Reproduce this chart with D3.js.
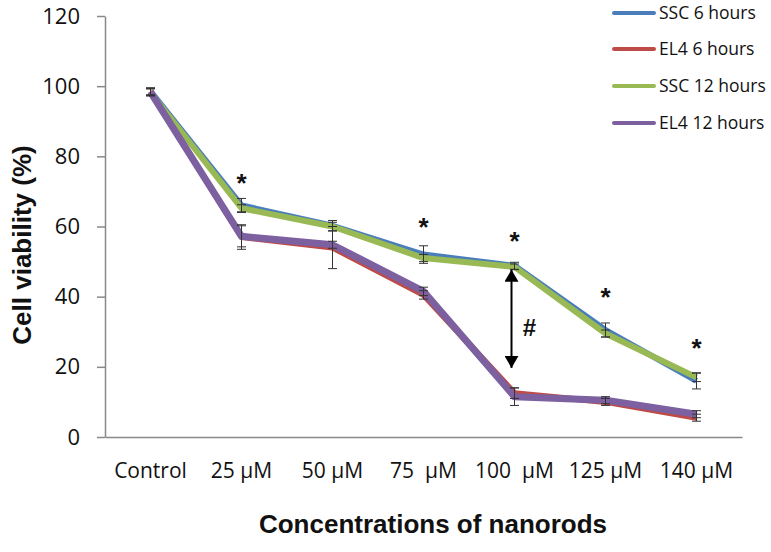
<!DOCTYPE html>
<html><head><meta charset="utf-8">
<script src="https://cdn.jsdelivr.net/npm/d3@7"></script>
<style>
html,body{margin:0;padding:0;background:#fff;}
svg{display:block;}
text{font-family:"Open Sans","Liberation Sans",sans-serif;}
</style></head>
<body>
<svg id="chart" width="771" height="552"></svg>
<script>
const categories = ["Control","25 µM","50 µM","75  µM","100  µM","125 µM","140 µM"];
const seriesNames = ["SSC 6 hours","EL4 6 hours","SSC 12 hours","EL4 12 hours"];
const sscSix     = [98.5, 66.0, 60.2, 52.0, 48.8, 30.5, 16.0];
const el4Six     = [98.5, 57.0, 54.0, 40.5, 12.5, 10.0, 5.5];
const sscTwelve  = [98.2, 65.2, 60.0, 51.0, 48.5, 29.5, 17.0];
const el4Twelve  = [98.3, 57.2, 54.8, 41.5, 11.5, 10.5, 6.5];
const sscSixErr     = [1.0, 2.0, 1.5, 2.5, 1.0, 2.0, 2.3];
const el4SixErr     = [1.0, 3.5, 6.0, 1.2, 1.5, 1.0, 1.0];
const sscTwelveErr  = [1.0, 1.0, 1.2, 1.0, 0.8, 1.0, 1.2];
const el4TwelveErr  = [1.0, 3.0, 1.0, 1.2, 2.5, 1.0, 1.0];
const yTicks = [0,20,40,60,80,100,120];
const starCats = ["25 µM","75  µM","100  µM","125 µM","140 µM"];
const starValues = [74, 61.5, 57.7, 41.5, 27];
const arrowCat = "100  µM";
const arrowRange = [47.7, 19.7];
const hashValue = 31.4;

const seriesValues = [sscSix, el4Six, sscTwelve, el4Twelve];
const seriesErrs = [sscSixErr, el4SixErr, sscTwelveErr, el4TwelveErr];
const colors = ["#4a7ebb","#be4b48","#98b954","#7d60a0"];
const widths = [6, 6, 6, 7];

const svg = d3.select("#chart");
const x = d3.scaleBand().domain(categories).range([105, 742]);
const y = d3.scaleLinear().domain([0,120]).range([437, 16]);
const axisColor = "#898989";

// Y axis
const yAxis = svg.append("g").attr("transform","translate(105,0)")
  .call(d3.axisLeft(y).tickValues(yTicks).tickSize(8).tickPadding(17).tickSizeOuter(0));
yAxis.select(".domain").attr("stroke",axisColor).attr("stroke-width",1.5);
yAxis.selectAll(".tick line").attr("stroke",axisColor).attr("stroke-width",1.5);
yAxis.selectAll(".tick text").attr("font-size",22).attr("fill","#111")
  .style("font-family","'Open Sans',sans-serif");

// X axis
const xAxis = svg.append("g").attr("transform",`translate(0,${y(0)})`)
  .call(d3.axisBottom(x).tickSize(0).tickPadding(26).tickSizeOuter(0));
xAxis.select(".domain").attr("stroke",axisColor).attr("stroke-width",1.5);
xAxis.selectAll(".tick text").attr("font-size",21).attr("fill","#111")
  .style("font-family","'Open Sans',sans-serif")
  .style("white-space","pre");

// axis titles
svg.append("text").attr("x",433).attr("y",533).attr("text-anchor","middle")
  .attr("font-size",26).attr("font-weight","bold").attr("fill","#111")
  .style("font-family","'Liberation Sans',Arial,sans-serif")
  .text("Concentrations of nanorods");
svg.append("text").attr("transform","translate(31,245) rotate(-90)")
  .attr("text-anchor","middle").attr("font-size",26).attr("font-weight","bold").attr("fill","#111")
  .style("font-family","'Liberation Sans',Arial,sans-serif")
  .text("Cell viability (%)");

const cx = c => x(c) + x.bandwidth()/2;
const line = d3.line().x((d,i)=>cx(categories[i])).y(d=>y(d));

// lines
seriesValues.forEach((vals,s)=>{
  svg.append("path").datum(vals).attr("d",line).attr("fill","none")
    .attr("stroke",colors[s]).attr("stroke-width",widths[s]).attr("stroke-linejoin","round");
});

// error bars
const eb = svg.append("g").attr("stroke","#333").attr("stroke-width",1);
seriesValues.forEach((vals,s)=>{
  vals.forEach((v,i)=>{
    const e = seriesErrs[s][i];
    const px = cx(categories[i]);
    eb.append("line").attr("x1",px).attr("x2",px).attr("y1",y(v+e)).attr("y2",y(v-e));
    eb.append("line").attr("x1",px-4.5).attr("x2",px+4.5).attr("y1",y(v+e)).attr("y2",y(v+e));
    eb.append("line").attr("x1",px-4.5).attr("x2",px+4.5).attr("y1",y(v-e)).attr("y2",y(v-e));
  });
});

// asterisks
starCats.forEach((c,i)=>{
  svg.append("text").attr("x",cx(c)).attr("y",y(starValues[i])+15).attr("text-anchor","middle")
    .attr("font-size",26).attr("font-weight","bold").attr("fill","#111")
    .style("font-family","'Liberation Sans',Arial,sans-serif").text("*");
});

// double arrow
const ax = cx(arrowCat) - 3;
const defs = svg.append("defs");
defs.append("marker").attr("id","ah").attr("viewBox","0 0 12 14").attr("refX",12).attr("refY",7)
  .attr("markerWidth",12).attr("markerHeight",14).attr("markerUnits","userSpaceOnUse").attr("orient","auto-start-reverse")
  .append("path").attr("d","M0,0 L12,7 L0,14 Z").attr("fill","#000");
svg.append("line").attr("x1",ax).attr("x2",ax).attr("y1",y(arrowRange[0])).attr("y2",y(arrowRange[1]))
  .attr("stroke","#000").attr("stroke-width",2)
  .attr("marker-start","url(#ah)").attr("marker-end","url(#ah)");
svg.append("text").attr("x",ax+18).attr("y",y(hashValue)+9).attr("text-anchor","middle")
  .attr("font-size",24).attr("font-weight","bold").attr("fill","#111")
  .style("font-family","'Liberation Sans',Arial,sans-serif").text("#");

// legend
const legY = [13, 49, 86, 123];
seriesNames.forEach((n,i)=>{
  const g = svg.append("g").attr("transform",`translate(0,${legY[i]})`);
  g.append("line").attr("x1",614).attr("x2",654).attr("y1",0).attr("y2",0)
    .attr("stroke",colors[i]).attr("stroke-width",4).attr("stroke-linecap","round");
  g.append("text").attr("x",659).attr("y",6).attr("font-size",17.5).attr("fill","#111").text(n);
});
</script>
</body></html>
